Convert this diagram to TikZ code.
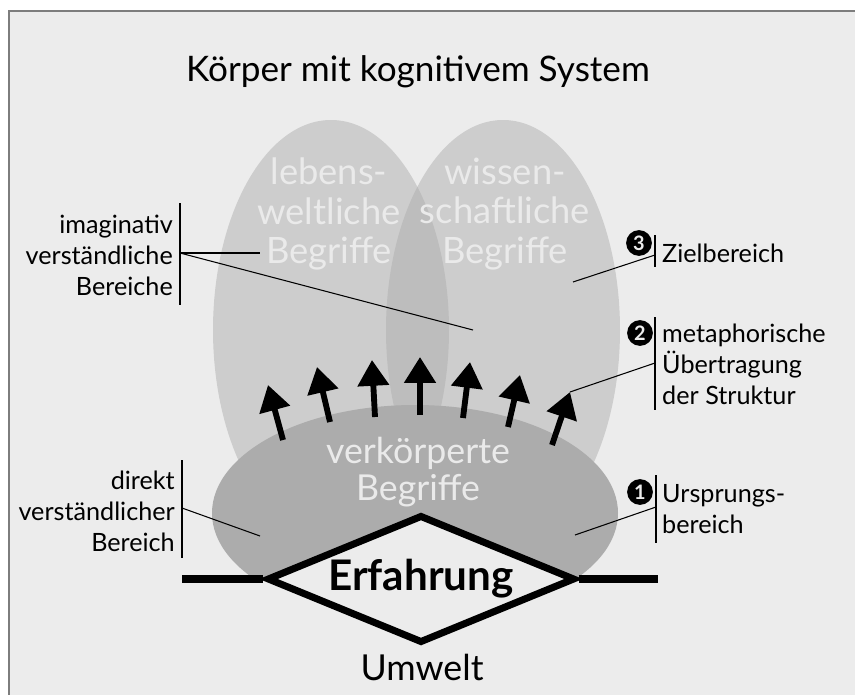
\documentclass[tikz,border=0pt]{standalone}
\usepackage{fontspec}
\setmainfont{Lato}
\usetikzlibrary{arrows.meta,shapes.geometric,positioning}
\definecolor{PageGray}{RGB}{236,236,236}
\definecolor{FrameGray}{RGB}{125,125,125}
\definecolor{UpperGray}{RGB}{205,205,205}
\definecolor{OverlapGray}{RGB}{189,189,189}
\definecolor{LowerGray}{RGB}{172,172,172}
\definecolor{InkWhite}{RGB}{234,234,234}
\tikzset{
  conceptlabel/.style={text=InkWhite,font=\fontsize{31}{34}\selectfont,align=center},
  sidelabel/.style={font=\fontsize{21.5}{26.5}\selectfont,inner sep=0pt},
  callout/.style={draw=black,line width=0.9pt},
  bracketbar/.style={draw=black,line width=1pt},
  numbadge/.style={circle,fill=black,text=PageGray,font=\bfseries\fontsize{17}{17}\selectfont,inner sep=0pt,minimum size=22pt},
  pusharrow/.style={-{Triangle[length=22pt,width=26pt]},line width=5pt},
}

\begin{document}
\begin{tikzpicture}[x=0.03cm,y=-0.03cm]
  \useasboundingbox (0,0) rectangle (855,695);
  % page
  \fill[white] (0,0) rectangle (855,695);
  \fill[PageGray] (9,11) rectangle (855,695);
  \draw[FrameGray,line width=1pt] (9,695) -- (9,11) -- (855,11);

  \node[font=\fontsize{30}{32}\selectfont] (title) at (418,72) {Körper mit kognitivem System};

  % upper ellipses
  \fill[UpperGray] (331,330) ellipse [x radius=118,y radius=210];
  \fill[UpperGray] (503,330) ellipse [x radius=117,y radius=210];
  \begin{scope}
    \clip (331,330) ellipse [x radius=118,y radius=210];
    \fill[OverlapGray] (503,330) ellipse [x radius=117,y radius=210];
  \end{scope}
  % lower ellipse, cut at the ground line
  \begin{scope}
    \clip (0,0) rectangle (855,578);
    \fill[LowerGray] (415,513) ellipse [x radius=203,y radius=108];
  \end{scope}

  \node[conceptlabel] (lebens) at (329,214) {lebens-\\weltliche\\Begriffe};
  \node[conceptlabel] (wissen) at (505,214) {wissen-\\schaftliche\\Begriffe};
  \node[conceptlabel,font=\fontsize{30.5}{32}\selectfont] (verkoerpert) at (418,472) {verkörperte\\Begriffe};

  % transfer arrows
  \foreach \tx/\ty/\hx/\hy in {283/440/268/385, 330/422/317/367, 375/417/372/360,
      420/415/420/357, 463/418/470/362, 508/427/520/375, 552/445/570/392}
    \draw[pusharrow] (\tx,\ty) -- (\hx,\hy);
  \coordinate (tipseven) at (570,392);

  % ground line and experience
  \node[diamond,draw=black,line width=6pt,fill=PageGray,aspect=2.4,inner sep=0pt,
        minimum width=9.24cm,minimum height=3.84cm,
        font=\bfseries\fontsize{36}{36}\selectfont] (erfahrung) at (421,579) {Erfahrung};
  \coordinate (groundL) at (182,579);
  \coordinate (groundR) at (658,579);
  \draw[line width=6pt] (groundL) -- (erfahrung.west);
  \draw[line width=6pt] (erfahrung.east) -- (groundR);
  \node[font=\fontsize{30.5}{32}\selectfont] (umwelt) at (422,667) {Umwelt};

  % left callouts
  \draw[bracketbar] (180,203) coordinate (imgtop) -- (180,305) coordinate (imgbot);
  \coordinate (imgjoint) at (180,253);
  \node[sidelabel,align=right,anchor=east] (imaginativ) at (173,255) {imaginativ\\verständliche\\Bereiche};
  \coordinate (lebenspt) at (260,253);
  \coordinate (overlappt) at (473,330);
  \draw[callout] (imgjoint) -- (lebenspt);
  \draw[callout] (imgjoint) -- (overlappt);

  \draw[bracketbar] (182,460) coordinate (dirtop) -- (182,558) coordinate (dirbot);
  \coordinate (dirjoint) at (182,508);
  \node[sidelabel,align=right,anchor=east] (direkt) at (175,511) {direkt\\verständlicher\\Bereich};
  \coordinate (direktpt) at (260,536);
  \draw[callout] (dirjoint) -- (direktpt);

  % right callouts
  \draw[bracketbar] (655,235) coordinate (zieltop) -- (655,267) coordinate (zielbot);
  \node[numbadge] (drei) at (639,243) {3};
  \node[sidelabel,anchor=west] (ziel) at (662,253) {Zielbereich};
  \coordinate (zieljoint) at (655,255);
  \coordinate (zielpt) at (573,282);
  \draw[callout] (zieljoint) -- (zielpt);

  \draw[bracketbar] (655,317) coordinate (mettop) -- (655,410) coordinate (metbot);
  \node[numbadge] (zwei) at (640,333) {2};
  \node[sidelabel,align=left,anchor=west] (metapher) at (662,364) {metaphorische\\Übertragung\\der Struktur};
  \coordinate (metjoint) at (655,363);
  \draw[callout] (metjoint) -- (tipseven);

  \draw[bracketbar] (656,475) coordinate (urstop) -- (656,543) coordinate (ursbot);
  \node[numbadge] (eins) at (640,492) {1};
  \node[sidelabel,align=left,anchor=west] (ursprung) at (662,509) {Ursprungs-\\bereich};
  \coordinate (ursjoint) at (656,507);
  \coordinate (urspt) at (575,535);
  \draw[callout] (ursjoint) -- (urspt);
\end{tikzpicture}
\end{document}
